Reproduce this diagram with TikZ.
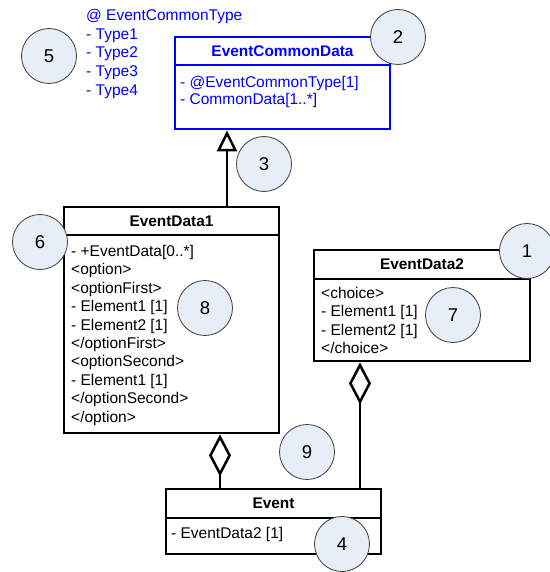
\documentclass[tikz,border=0pt]{standalone}
\usepackage{fontspec}
\setmainfont{Liberation Sans}
\usetikzlibrary{arrows.meta}
\definecolor{circfill}{RGB}{232,238,248}
\definecolor{circline}{RGB}{60,60,60}
\definecolor{umlblue}{RGB}{0,0,255}
\tikzset{
  hdr/.style={draw, line width=2.8pt, inner sep=0, font=\fontsize{15.4}{18}\selectfont\bfseries},
  bodybox/.style={draw, line width=2.8pt, inner sep=0},
  bodytext/.style={anchor=north west, inner sep=0, align=left, font=\fontsize{15.5}{18.4}\selectfont},
  num/.style={circle, draw=circline, line width=0.8pt, fill=circfill, minimum size=55pt, inner sep=0, font=\fontsize{18.5}{20}\selectfont},
  conn/.style={line width=2.5pt},
  gen/.style={conn, -{Triangle[open, length=21pt, width=20pt]}},
  agg/.style={conn, {Diamond[open, length=42pt, width=22pt]}-}
}
\begin{document}
\begin{tikzpicture}[x=1pt, y=-1pt]
\useasboundingbox (0,0) rectangle (549,572);
% EventCommonData
\node[hdr, draw=umlblue, text=umlblue, minimum width=215pt, minimum height=28pt] (ecdh) at (282.5,51) {EventCommonData};
\node[bodybox, draw=umlblue, minimum width=215pt, minimum height=64pt] (ecdb) at (282.5,97) {};
\node[bodytext, text=umlblue, font=\fontsize{15.5}{17.5}\selectfont] (ecdt) at (180,76) {- @EventCommonType[1]\\- CommonData[1..*]};
% type list
\node[bodytext, text=umlblue, font=\fontsize{15.5}{18.75}\selectfont] (types) at (86,9) {@ EventCommonType\\- Type1\\- Type2\\- Type3\\- Type4};
% EventData1
\node[hdr, minimum width=215pt, minimum height=28pt] (ed1h) at (171.5,221) {EventData1};
\node[bodybox, minimum width=215pt, minimum height=198pt] (ed1b) at (171.5,334) {};
\node[bodytext] (ed1t) at (71,245) {- +EventData[0..*]\\<option>\\<optionFirst>\\- Element1 [1]\\- Element2 [1]\\</optionFirst>\\<optionSecond>\\- Element1 [1]\\</optionSecond>\\</option>};
% EventData2
\node[hdr, minimum width=216pt, minimum height=29pt] (ed2h) at (422,264.5) {EventData2};
\node[bodybox, minimum width=216pt, minimum height=82pt] (ed2b) at (422,320) {};
\node[bodytext] (ed2t) at (321,287) {<choice>\\- Element1 [1]\\- Element2 [1]\\</choice>};
% Event
\node[hdr, minimum width=215pt, minimum height=29pt] (evh) at (273.5,503.5) {Event};
\node[bodybox, minimum width=215pt, minimum height=36pt] (evb) at (273.5,536) {};
\node[bodytext] (evt) at (171,527) {- EventData2 [1]};
% connectors
\draw[gen] (ed1h.north -| 227,0) -- (ecdb.south -| 227,0);
\draw[agg] (ed1b.south -| 220,0) -- (evh.north -| 220,0);
\draw[agg] (ed2b.south -| 360,0) -- (evh.north -| 360,0);
% numbered circles
\node[num] (c1) at (527,251) {1};
\node[num] (c2) at (398,37) {2};
\node[num] (c3) at (264,164) {3};
\node[num] (c4) at (342,544) {4};
\node[num] (c5) at (49,56) {5};
\node[num] (c6) at (40,242) {6};
\node[num] (c7) at (453,315) {7};
\node[num] (c8) at (205,308) {8};
\node[num] (c9) at (307,452) {9};
\end{tikzpicture}
\end{document}
